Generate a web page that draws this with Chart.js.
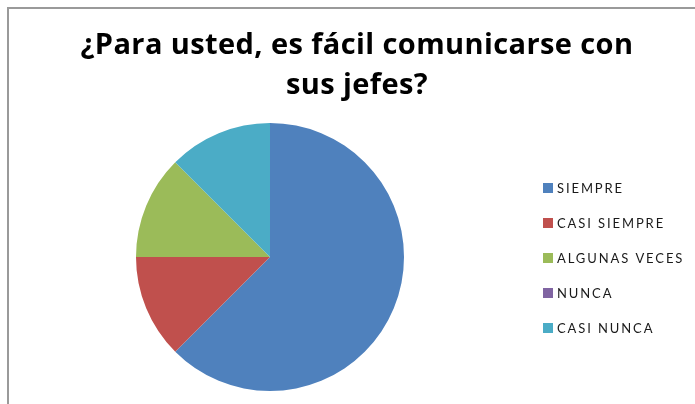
<!DOCTYPE html>
<html>
<head>
<meta charset="utf-8">
<script src="https://cdn.jsdelivr.net/npm/chart.js@4/dist/chart.umd.min.js"></script>
<style>
    html, body { margin: 0; padding: 0; background: #fff; }
    #wrap { position: relative; width: 695px; height: 404px; overflow: hidden; }
    #frame { position: absolute; left: 7px; top: 7px; right: -10px; bottom: -10px;
             border-left: 2px solid #9a9a9a; border-top: 2px solid #9a9a9a; }
    canvas { position: absolute; left: 0; top: 0; }
</style>
</head>
<body>
<div id="wrap">
    <div id="frame"></div>
    <canvas id="chart" width="695" height="404"></canvas>
</div>
<script>
// =========================
// DATOS
// =========================
const titulo = ["¿Para usted, es fácil comunicarse con", "sus jefes?"];
const categorias = ["SIEMPRE", "CASI SIEMPRE", "ALGUNAS VECES", "NUNCA", "CASI NUNCA"];
const valores = [5, 1, 1, 0, 1];
const colores = ["#4F81BD", "#C0504D", "#9BBB59", "#8064A2", "#4BACC6"];

// =========================
// TÍTULO Y LEYENDA (dibujados a mano, estilo Excel)
// =========================
const estiloExcel = {
    id: "estiloExcel",
    afterDraw(chart) {
        const ctx = chart.ctx;
        const ds = chart.data.datasets[0];
        ctx.save();

        // título
        ctx.font = "bold 29px 'Open Sans'";
        ctx.letterSpacing = "0.4px";
        ctx.textAlign = "center";
        ctx.textBaseline = "alphabetic";
        ctx.fillStyle = "#000";
        titulo.forEach((linea, i) => ctx.fillText(linea, 357, 54 + i * 40));

        // leyenda
        const x = 543, y0 = 188, paso = 35;
        ctx.font = "13px Lato";
        ctx.letterSpacing = "1.9px";
        ctx.textAlign = "left";
        ctx.textBaseline = "middle";
        chart.data.labels.forEach((lab, i) => {
            const y = y0 + i * paso;
            ctx.fillStyle = ds.backgroundColor[i];
            ctx.fillRect(x, y - 5, 10, 10);
            ctx.fillStyle = "#1a1a1a";
            ctx.fillText(lab, x + 14, y + 1);
        });
        ctx.restore();
    }
};

// =========================
// GRÁFICO
// =========================
new Chart(document.getElementById("chart"), {
    type: "pie",
    data: {
        labels: categorias,
        datasets: [{
            data: valores,
            backgroundColor: colores,
            borderWidth: 0
        }]
    },
    options: {
        responsive: false,
        animation: false,
        layout: {
            padding: { left: 20, right: 175, top: 123, bottom: 13 }
        },
        plugins: {
            title: { display: false },
            legend: { display: false },
            tooltip: { enabled: false }
        }
    },
    plugins: [estiloExcel]
});
</script>
</body>
</html>
